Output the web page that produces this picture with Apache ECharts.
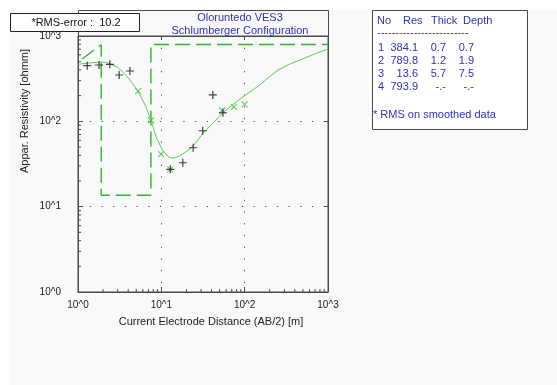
<!DOCTYPE html>
<html>
<head>
<meta charset="utf-8">
<script src="https://cdn.jsdelivr.net/npm/echarts@6/dist/echarts.min.js"></script>
<style>
  html, body { margin: 0; padding: 0; background: #ffffff; }
  #chart { width: 557px; height: 385px; }
</style>
</head>
<body>
<div id="chart"></div>
<script>
// Sounding title and fit summary
const titleLines = ['Oloruntedo VES3', 'Schlumberger Configuration'];
const rmsText = '*RMS-error :  10.2';
const rmsNote = '* RMS on smoothed data';
const xAxisTitle = 'Current Electrode Distance (AB/2) [m]';
const yAxisTitle = 'Appar. Resistivity [ohmm]';

// Decade tick labels (index = exponent)
const xTickLabels = ['10^0', '10^1', '10^2', '10^3'];
const yTickLabels = ['10^0', '10^1', '10^2', '10^3'];
const axisMin = 1;
const axisMax = 1000;

// Measured apparent resistivity: AB/2 [m] and rho_a [ohmm]
const fieldAB2 = [1.29, 1.79, 2.41, 3.12, 4.2, 12.8, 18.1, 24.1, 31.4, 41.5, 54.8];
const fieldRho = [449, 457, 466, 349, 389, 27.4, 32.7, 49, 77.6, 204, 126];

// Smoothed data points
const smoothAB2 = [5.28, 7.51, 9.92, 12.8, 53.8, 74.3, 100];
const smoothRho = [226, 103, 41.2, 27.4, 134, 148, 158];

// Calculated response of the layered model
const curveAB2 = [1.0, 1.49, 1.96, 2.36, 2.98, 3.76, 4.51, 5.43, 6.54, 7.51, 8.63, 10.4, 12.5, 14.3, 16.5, 19.8, 23.8, 31.5, 41.5, 54.8, 95.5, 152, 200, 252, 340, 460, 650, 964, 1000];
const curveRho = [466, 487, 496, 479, 430, 349, 279, 213, 148, 104, 66, 45.3, 37.5, 37.2, 39.3, 44, 50.5, 72.4, 94.8, 127, 194, 267, 335, 400, 465, 523, 600, 698, 705];

// Layer model
const layerNo = [1, 2, 3, 4];
const layerRes = [384.1, 789.8, 13.6, 793.9];
const layerThick = ['0.7', '1.2', '5.7', '-.-'];
const layerDepth = [0.7, 1.9, 7.5, null];

// Minor tick multipliers within each decade
const minorSteps = [2, 3, 4, 5, 6, 7, 8, 9];

const FONT = '"Liberation Sans", Arial, sans-serif';
const AXIS_COLOR = '#4a4a4a';
const BLUE = '#3030c0';

const zip = (a, b) => a.map((v, i) => [v, b[i]]);

// Step outline of the layer model
function modelOutline() {
  const n = layerRes.length;
  const pts = [[layerDepth[0], layerRes[0]]];
  for (let i = 1; i < n - 1; i++) {
    pts.push([layerDepth[i], layerRes[i]]);
    pts.push([layerDepth[i], layerRes[i + 1]]);
  }
  pts.push([axisMax, layerRes[n - 1]]);
  return pts;
}

// Minor tick positions for the bottom (flag 1) and left (flag 2) axes
function minorTickData() {
  const out = [];
  for (let e = 0; e < 3; e++) {
    minorSteps.forEach(m => {
      const v = m * Math.pow(10, e);
      out.push([v, 1]);
      out.push([v, 2]);
    });
  }
  return out;
}

const decadeLabel = labels => v => labels[Math.round(Math.log10(v))] || '';

const dottedGrid = { show: true, lineStyle: { color: '#555', width: 1, type: [1.3, 10.4] } };

const tableText = (x, y, t, align) => ({
  type: 'text', z: 8, x: x, y: y,
  style: { text: t, font: '11px ' + FONT, fill: BLUE, align: align || 'left', verticalAlign: 'middle' }
});

// Layer table text
const tableGraphics = [];
[['No', 377], ['Res', 403], ['Thick', 431], ['Depth', 463]].forEach(([t, x]) => {
  tableGraphics.push(tableText(x, 21, t));
});
tableGraphics.push(tableText(377, 33, '-------------------------'));
const rowY = [48, 61, 74, 87];
layerNo.forEach((no, i) => {
  const depthText = layerDepth[i] == null ? '-.-' : layerDepth[i].toFixed(1);
  [[String(no), 384], [layerRes[i].toFixed(1), 418], [layerThick[i], 446], [depthText, 474]]
    .forEach(([t, x]) => tableGraphics.push(tableText(x, rowY[i], t, 'right')));
});
tableGraphics.push(tableText(373, 115, rmsNote));

const chart = echarts.init(document.getElementById('chart'), null, { renderer: 'canvas' });

chart.setOption({
  animation: false,
  backgroundColor: '#ffffff',
  textStyle: { fontFamily: FONT },
  grid: { left: 78, right: 229, top: 36, bottom: 93, show: true, borderColor: AXIS_COLOR, borderWidth: 1, backgroundColor: 'transparent' },
  xAxis: [
    {
      type: 'log', logBase: 10, min: axisMin, max: axisMax, position: 'bottom',
      axisLine: { show: true, lineStyle: { color: AXIS_COLOR } },
      axisTick: { show: true, inside: true, length: 5, lineStyle: { color: AXIS_COLOR } },
      axisLabel: { fontSize: 10, color: '#222', margin: 8, formatter: decadeLabel(xTickLabels), fontFamily: FONT },
      splitLine: dottedGrid
    },
    {
      type: 'log', logBase: 10, min: axisMin, max: axisMax, position: 'top',
      axisLine: { show: true, lineStyle: { color: AXIS_COLOR } },
      axisTick: { show: true, inside: true, length: 4, lineStyle: { color: AXIS_COLOR } },
      axisLabel: { show: false }, splitLine: { show: false }
    }
  ],
  yAxis: [
    {
      type: 'log', logBase: 10, min: axisMin, max: axisMax, position: 'left',
      axisLine: { show: true, lineStyle: { color: AXIS_COLOR } },
      axisTick: { show: true, inside: true, length: 5, lineStyle: { color: AXIS_COLOR } },
      axisLabel: { fontSize: 10, color: '#222', margin: 17, formatter: decadeLabel(yTickLabels), fontFamily: FONT },
      splitLine: dottedGrid
    },
    {
      type: 'log', logBase: 10, min: axisMin, max: axisMax, position: 'right',
      axisLine: { show: true, lineStyle: { color: AXIS_COLOR } },
      axisTick: { show: true, inside: true, length: 4, lineStyle: { color: AXIS_COLOR } },
      axisLabel: { show: false }, splitLine: { show: false }
    }
  ],
  graphic: [
    { type: 'rect', z: -10, shape: { x: 10, y: 10, width: 547, height: 375 }, style: { fill: '#f9f9f9' }, silent: true },
    { type: 'rect', z: 5, shape: { x: 78.5, y: 10.5, width: 250, height: 26 }, style: { fill: 'none', stroke: AXIS_COLOR, lineWidth: 1 } },
    { type: 'text', z: 6, x: 240, y: 17.5, style: { text: titleLines[0], font: '11px ' + FONT, fill: BLUE, align: 'center', verticalAlign: 'middle' } },
    { type: 'text', z: 6, x: 240, y: 31, style: { text: titleLines[1], font: '11px ' + FONT, fill: BLUE, align: 'center', verticalAlign: 'middle' } },
    { type: 'rect', z: 10, shape: { x: 10.5, y: 13.5, width: 129, height: 18 }, style: { fill: '#ffffff', stroke: '#222', lineWidth: 1 } },
    { type: 'text', z: 11, x: 76, y: 23, style: { text: rmsText, font: '11px ' + FONT, fill: '#111', align: 'center', verticalAlign: 'middle' } },
    { type: 'rect', z: 5, shape: { x: 372.5, y: 10.5, width: 155, height: 119 }, style: { fill: '#ffffff', stroke: AXIS_COLOR, lineWidth: 1 } },
    ...tableGraphics,
    { type: 'text', z: 6, x: 211, y: 322, style: { text: xAxisTitle, font: '11px ' + FONT, fill: '#222', align: 'center', verticalAlign: 'middle' } },
    { type: 'text', z: 6, x: 25, y: 111, rotation: Math.PI / 2, style: { text: yAxisTitle, font: '11px ' + FONT, fill: '#222', align: 'center', verticalAlign: 'middle' } }
  ],
  series: [
    {
      name: 'minor ticks', type: 'custom', silent: true, xAxisIndex: 0, yAxisIndex: 0,
      data: minorTickData(),
      renderItem: function (params, api) {
        const v = api.value(0), f = api.value(1);
        if (f === 1) {
          const p = api.coord([v, axisMin]);
          return { type: 'line', shape: { x1: p[0], y1: p[1], x2: p[0], y2: p[1] - 3 }, style: { stroke: AXIS_COLOR, lineWidth: 1 } };
        }
        const p = api.coord([axisMin, v]);
        return { type: 'line', shape: { x1: p[0], y1: p[1], x2: p[0] + 3, y2: p[1] }, style: { stroke: AXIS_COLOR, lineWidth: 1 } };
      }
    },
    {
      name: 'layer model', type: 'line', data: modelOutline(), symbol: 'none', silent: true, clip: true,
      lineStyle: { color: '#2db52d', width: 1.4, type: [15, 6] }, z: 3
    },
    {
      name: 'model response', type: 'line', data: zip(curveAB2, curveRho), symbol: 'none', silent: true, smooth: false,
      lineStyle: { color: '#5acb5a', width: 1 }, z: 4
    },
    {
      name: 'smoothed', type: 'scatter', data: zip(smoothAB2, smoothRho), silent: true,
      symbol: 'path://M0,0L10,10M10,0L0,10', symbolSize: 6,
      itemStyle: { color: 'rgba(0,0,0,0)', borderColor: '#44c044', borderWidth: 1.1 }, z: 5
    },
    {
      name: 'field data', type: 'scatter', data: zip(fieldAB2, fieldRho), silent: true,
      symbol: 'path://M5,0L5,10M0,5L10,5', symbolSize: 8,
      itemStyle: { color: 'rgba(0,0,0,0)', borderColor: '#111', borderWidth: 1.2 }, z: 6
    }
  ]
});
</script>
</body>
</html>
